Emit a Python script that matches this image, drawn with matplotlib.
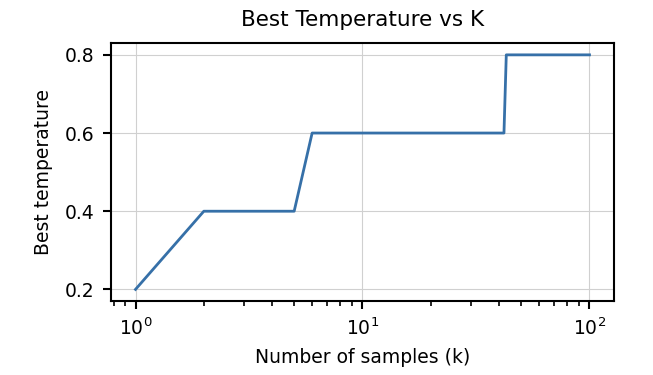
import matplotlib
matplotlib.use('Agg')
from matplotlib import pyplot as plt

# Точки, где меняется лучшая температура
k_values = [1, 2, 5, 6, 42, 43, 100]
best_temps = [0.2, 0.4, 0.4, 0.6, 0.6, 0.8, 0.8]
y_ticks = [0.2, 0.4, 0.6, 0.8]

fig = plt.figure(dpi=100, figsize=(6.53, 3.75))
ax = fig.add_axes([0.17, 0.197, 0.77, 0.688])
ax.plot(k_values, best_temps, c='#3670a8', linewidth=2)
ax.set_xscale('log')
ax.set_yticks(y_ticks)
ax.set_ylim(0.17, 0.83)
ax.set_xlim(0.78, 128)

# Форматирование диаграммы
ax.set_title('Best Temperature vs K', fontsize=15.5, pad=12)
ax.set_xlabel('Number of samples (k)', fontsize=13.5, labelpad=6)
ax.set_ylabel('Best temperature', fontsize=13.5, labelpad=8)
ax.tick_params(axis='both', which='major', labelsize=13.5, length=6, width=1.5, pad=6)
ax.tick_params(axis='x', which='minor', length=3.5, width=1.2)
ax.grid(True, which='major', color='#d0d0d0', linewidth=0.8)
for spine in ax.spines.values():
    spine.set_linewidth(1.5)

plt.savefig('out.png')
